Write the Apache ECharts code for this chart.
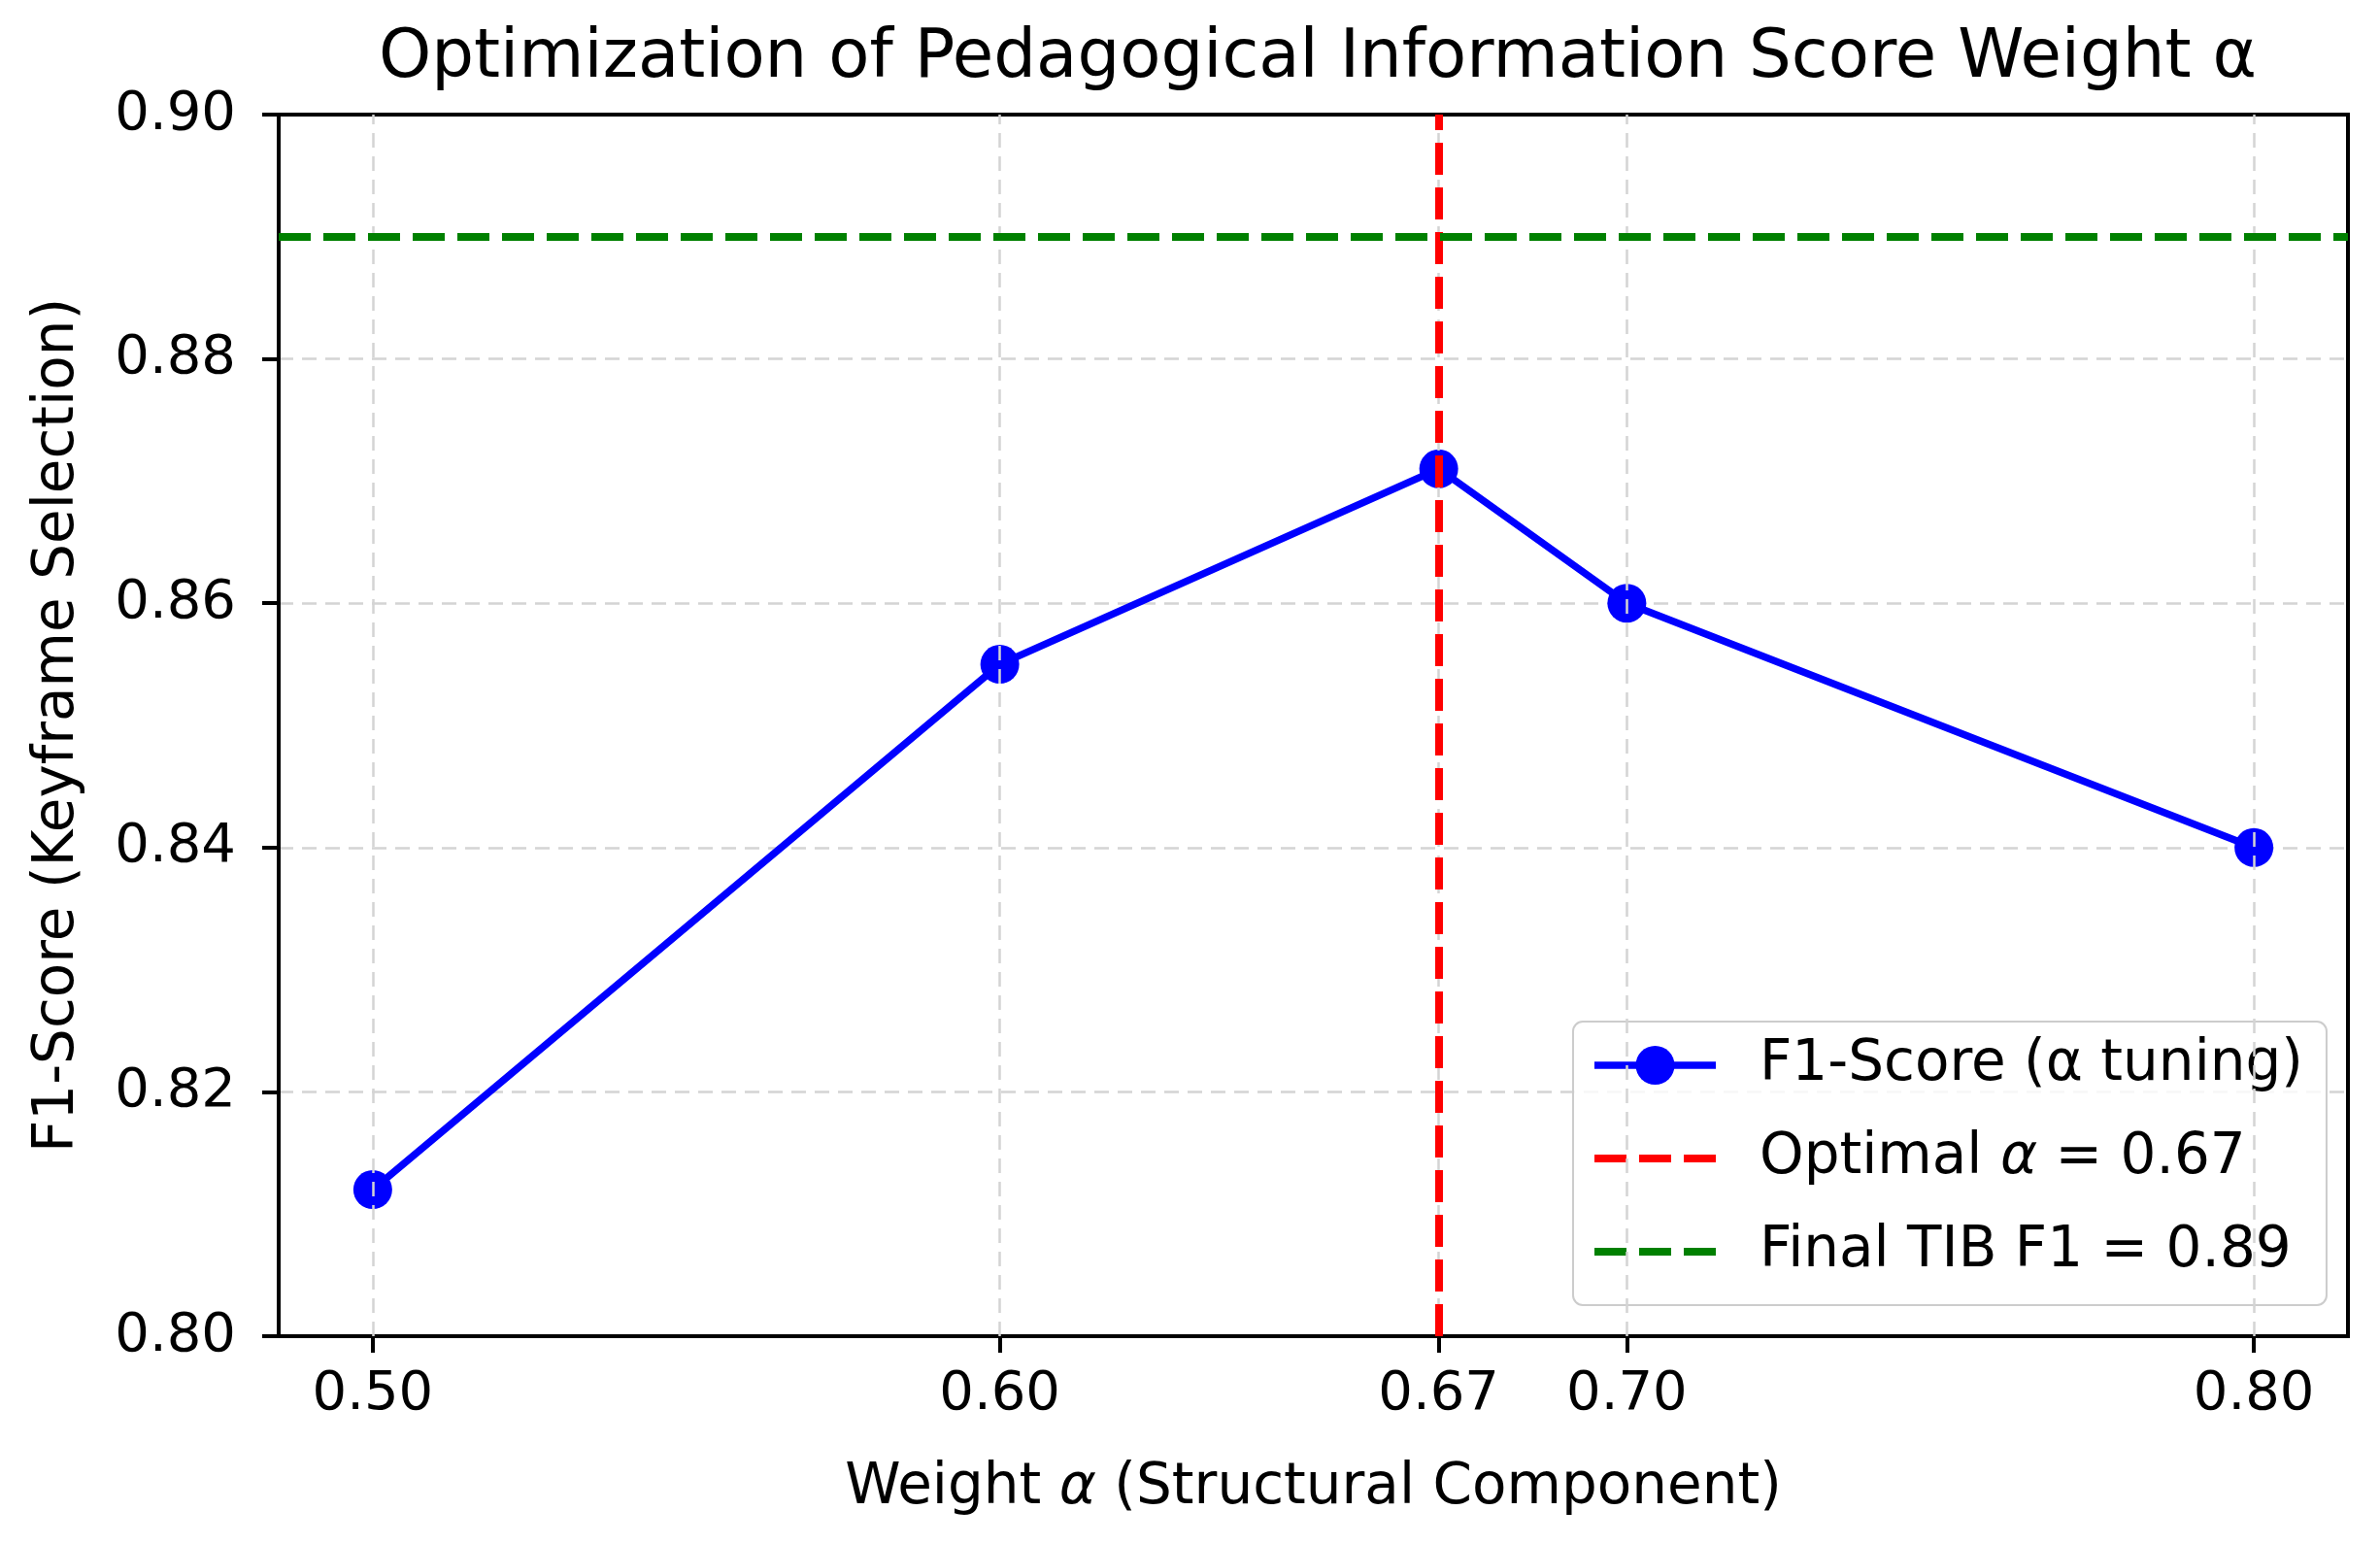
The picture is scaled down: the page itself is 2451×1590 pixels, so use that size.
<!DOCTYPE html>
<html>
<head>
<meta charset="utf-8">
<title>Optimization of Pedagogical Information Score Weight α</title>
<script src="https://cdn.jsdelivr.net/npm/echarts@6/dist/echarts.min.js"></script>
<style>
  html, body { margin: 0; padding: 0; background: #fff; }
  #chart { width: 2451px; height: 1590px; }
</style>
</head>
<body>
<div id="chart"></div>
<script>
// data
const alphaValues = [0.50, 0.60, 0.67, 0.70, 0.80];
const f1Scores = [0.812, 0.855, 0.871, 0.860, 0.840];
const xTicks = [0.50, 0.60, 0.67, 0.70, 0.80];
const xMin = 0.485, xMax = 0.815;
const yMin = 0.80, yMax = 0.90, yStep = 0.02;
const optimalAlpha = 0.67;
const finalF1 = 0.89;

const f1Name = 'F1-Score (α tuning)';
const optName = 'Optimal α = 0.67';
const finalName = 'Final TIB F1 = 0.89';

const font = 'DejaVu Sans';
const myChart = echarts.init(document.getElementById('chart'));

const gridDash = { color: '#d4d4d4', width: 2.5, type: [15, 9] };
const redDash = { color: '#ff0000', width: 8, type: [33, 13] };
const greenDash = { color: '#008000', width: 8, type: [33, 13] };

let option = {
  animation: false,
  backgroundColor: '#fff',
  title: {
    text: 'Optimization of Pedagogical Information Score Weight α',
    left: 1352,
    textAlign: 'center',
    top: 22,
    textStyle: { fontFamily: font, fontSize: 69, fontWeight: 'normal', color: '#000' }
  },
  grid: {
    left: 287, right: 33, top: 118, bottom: 214,
    show: true, borderColor: '#000', borderWidth: 4
  },
  legend: {
    data: [
      { name: f1Name, lineStyle: { color: '#0000ff', width: 7.5, type: 'solid' } },
      { name: optName, itemStyle: { color: 'rgba(0,0,0,0)', borderWidth: 0 }, lineStyle: redDash },
      { name: finalName, itemStyle: { color: 'rgba(0,0,0,0)', borderWidth: 0 }, lineStyle: greenDash }
    ],
    orient: 'vertical',
    left: 1620,
    top: 1052,
    padding: [16, 24, 26, 18],
    itemWidth: 125,
    itemHeight: 50,
    itemGap: 38,
    backgroundColor: 'rgba(255,255,255,0.8)',
    borderColor: '#cccccc',
    borderWidth: 2,
    borderRadius: 10,
    formatter: name => name === optName ? 'Optimal {i|α} = 0.67' : name,
    textStyle: {
      fontFamily: font, fontSize: 58, color: '#000', padding: [0, 0, 0, 40],
      rich: { i: { fontFamily: font, fontSize: 58, fontStyle: 'italic', color: '#000' } }
    }
  },
  xAxis: {
    type: 'value',
    min: xMin,
    max: xMax,
    name: 'Weight {i|α} (Structural Component)',
    nameLocation: 'middle',
    nameGap: 128,
    nameTextStyle: {
      fontFamily: font, fontSize: 58, color: '#000',
      rich: { i: { fontFamily: font, fontSize: 58, fontStyle: 'italic', color: '#000' } }
    },
    axisLine: { show: true, lineStyle: { color: '#000', width: 4 } },
    axisTick: { show: true, customValues: xTicks, length: 17, lineStyle: { color: '#000', width: 4 } },
    axisLabel: {
      customValues: xTicks,
      formatter: v => v.toFixed(2),
      margin: 32,
      fontFamily: font, fontSize: 56, color: '#000'
    },
    splitLine: { show: false }
  },
  yAxis: {
    type: 'value',
    min: yMin,
    max: yMax,
    interval: yStep,
    name: 'F1-Score (Keyframe Selection)',
    nameLocation: 'middle',
    nameGap: 198,
    nameTextStyle: { fontFamily: font, fontSize: 58, color: '#000' },
    axisLine: { show: true, lineStyle: { color: '#000', width: 4 } },
    axisTick: { show: true, length: 17, lineStyle: { color: '#000', width: 4 } },
    axisLabel: {
      formatter: v => v.toFixed(2),
      margin: 44,
      fontFamily: font, fontSize: 56, color: '#000'
    },
    splitLine: { show: true, showMinLine: false, showMaxLine: false, lineStyle: gridDash }
  },
  series: [
    {
      // vertical grid lines at the custom x ticks
      name: 'xgrid',
      type: 'line',
      data: [],
      silent: true,
      z: 1,
      markLine: {
        silent: true,
        symbol: ['none', 'none'],
        label: { show: false },
        lineStyle: gridDash,
        data: xTicks.map(v => ({ xAxis: v }))
      }
    },
    {
      name: f1Name,
      type: 'line',
      data: alphaValues.map((a, i) => [a, f1Scores[i]]),
      symbol: 'circle',
      symbolSize: 40,
      z: 3,
      itemStyle: { color: '#0000ff' },
      lineStyle: { color: '#0000ff', width: 7.5 }
    },
    {
      name: optName,
      type: 'line',
      data: [],
      symbol: 'none',
      z: 5,
      itemStyle: { color: '#ff0000' },
      lineStyle: redDash,
      markLine: {
        silent: true,
        symbol: ['none', 'none'],
        label: { show: false },
        lineStyle: redDash,
        data: [{ xAxis: optimalAlpha }]
      }
    },
    {
      name: finalName,
      type: 'line',
      data: [],
      symbol: 'none',
      z: 4,
      itemStyle: { color: '#008000' },
      lineStyle: greenDash,
      markLine: {
        silent: true,
        symbol: ['none', 'none'],
        label: { show: false },
        lineStyle: greenDash,
        data: [{ yAxis: finalF1 }]
      }
    }
  ]
};

myChart.setOption(option);
</script>
</body>
</html>
